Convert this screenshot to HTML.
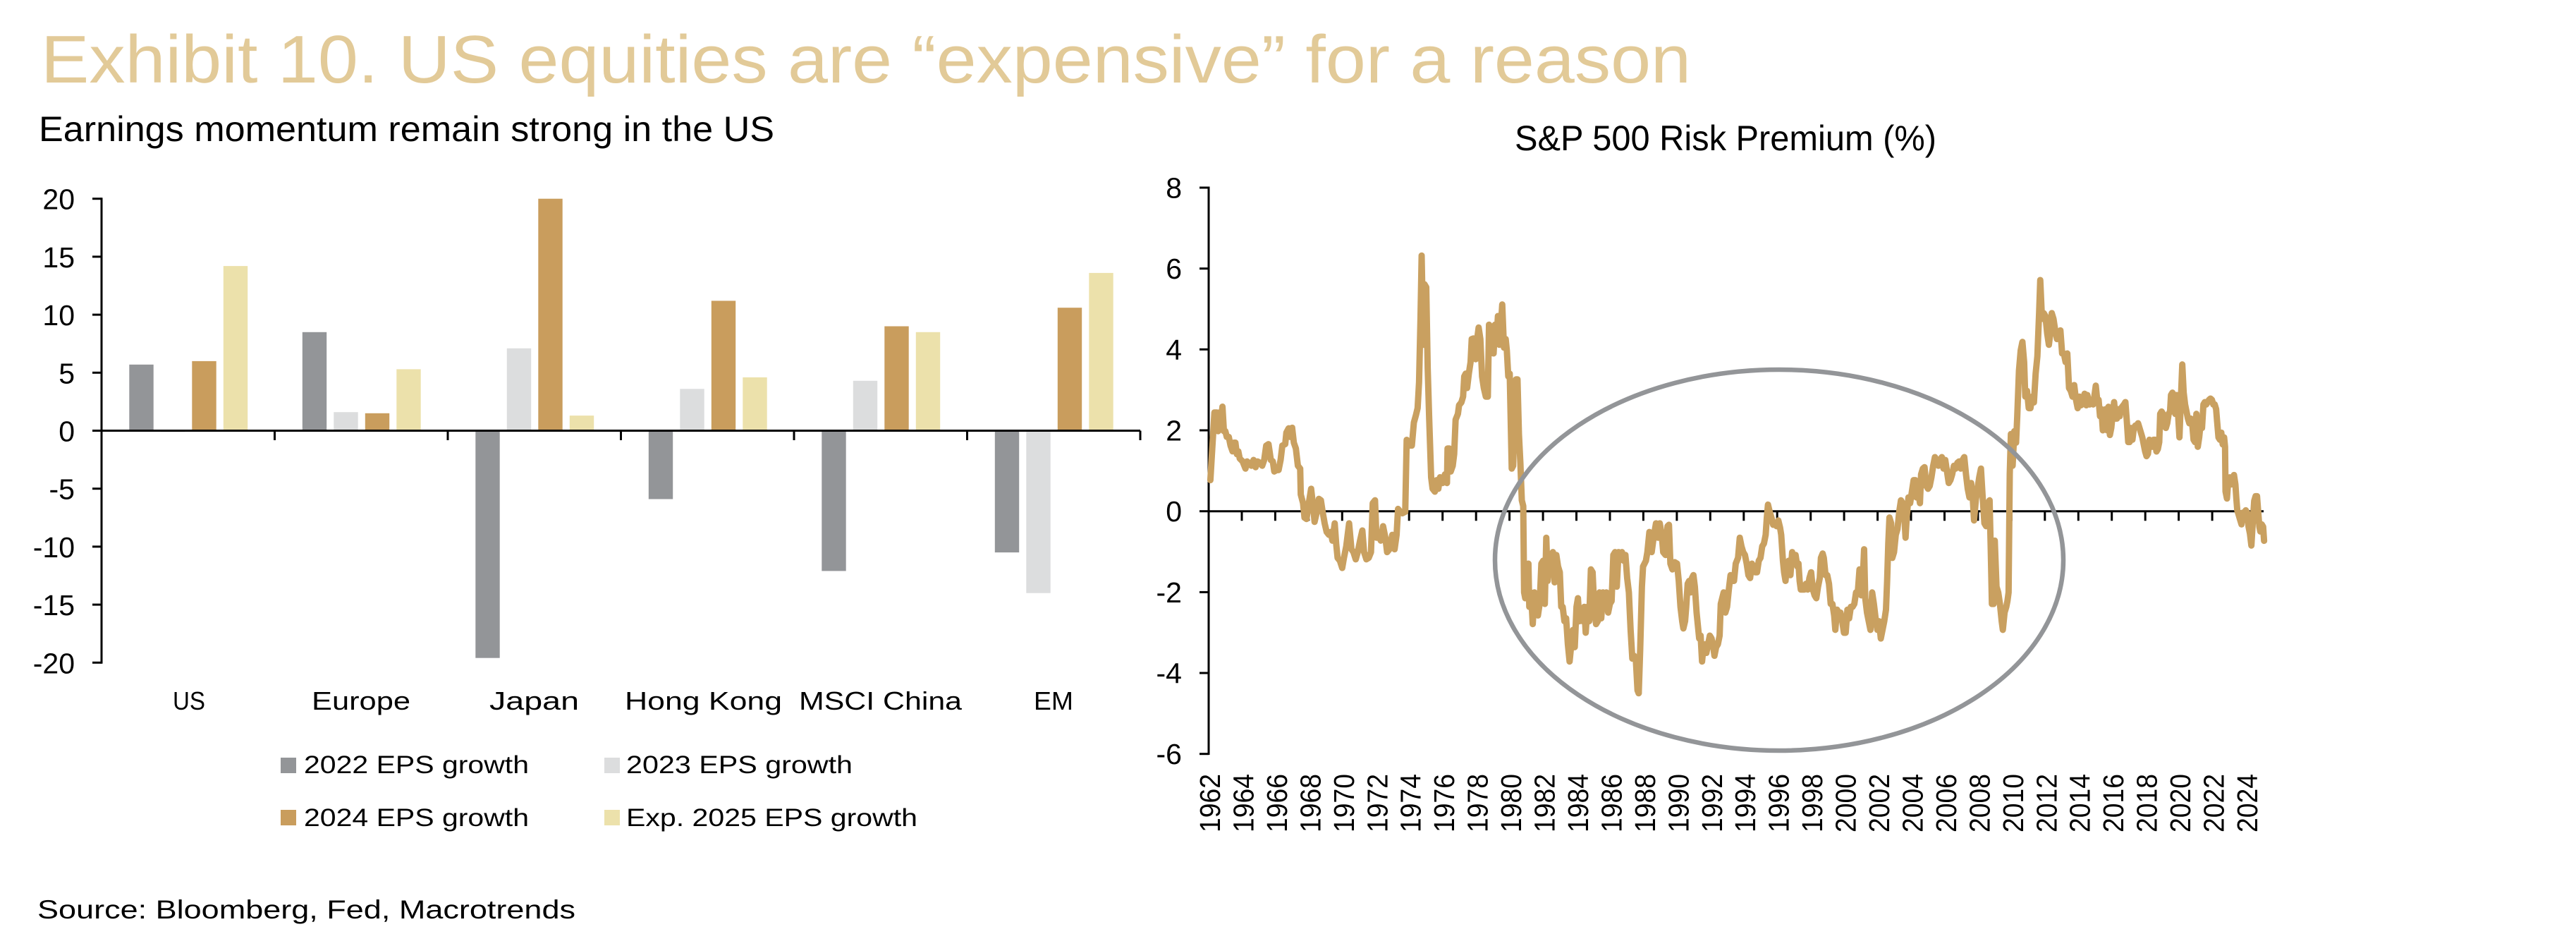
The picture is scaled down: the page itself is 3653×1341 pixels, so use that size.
<!DOCTYPE html>
<html><head><meta charset="utf-8"><style>
html,body{margin:0;padding:0;background:#fff;}
svg{display:block;}
text{font-family:"Liberation Sans",sans-serif;}
</style></head><body>
<svg width="3653" height="1341" viewBox="0 0 3653 1341" xmlns="http://www.w3.org/2000/svg">
<rect width="3653" height="1341" fill="#fff"/>
<!-- Title -->
<text x="58" y="117" font-size="96" fill="#E2CA98" textLength="2340" lengthAdjust="spacingAndGlyphs">Exhibit 10. US equities are “expensive” for a reason</text>
<text x="55" y="200" font-size="50" fill="#000" textLength="1043" lengthAdjust="spacingAndGlyphs">Earnings momentum remain strong in the US</text>
<text x="2148" y="213" font-size="50" fill="#000" textLength="598" lengthAdjust="spacingAndGlyphs">S&amp;P 500 Risk Premium (%)</text>

<!-- LEFT CHART bars -->
<g>
<rect x="183.3" y="516.8" width="34.4" height="93.7" fill="#939598"/>
<rect x="227.8" y="610.5" width="34.4" height="2" fill="#DCDDDE"/>
<rect x="272.3" y="511.9" width="34.4" height="98.6" fill="#C99D5D"/>
<rect x="316.8" y="377.1" width="34.4" height="233.4" fill="#ECE1AB"/>

<rect x="428.8" y="470.8" width="34.4" height="139.7" fill="#939598"/>
<rect x="473.3" y="584.2" width="34.4" height="26.3" fill="#DCDDDE"/>
<rect x="517.8" y="585.8" width="34.4" height="24.7" fill="#C99D5D"/>
<rect x="562.3" y="523.4" width="34.4" height="87.1" fill="#ECE1AB"/>

<rect x="674.3" y="610.5" width="34.4" height="322.2" fill="#939598"/>
<rect x="718.8" y="493.8" width="34.4" height="116.7" fill="#DCDDDE"/>
<rect x="763.3" y="281.7" width="34.4" height="328.8" fill="#C99D5D"/>
<rect x="807.8" y="589.1" width="34.4" height="21.4" fill="#ECE1AB"/>

<rect x="919.8" y="610.5" width="34.4" height="97" fill="#939598"/>
<rect x="964.3" y="551.3" width="34.4" height="59.2" fill="#DCDDDE"/>
<rect x="1008.8" y="426.4" width="34.4" height="184.1" fill="#C99D5D"/>
<rect x="1053.3" y="534.9" width="34.4" height="75.6" fill="#ECE1AB"/>

<rect x="1165.3" y="610.5" width="34.4" height="198.9" fill="#939598"/>
<rect x="1209.8" y="539.8" width="34.4" height="70.7" fill="#DCDDDE"/>
<rect x="1254.3" y="462.5" width="34.4" height="148" fill="#C99D5D"/>
<rect x="1298.8" y="470.8" width="34.4" height="139.7" fill="#ECE1AB"/>

<rect x="1410.8" y="610.5" width="34.4" height="172.6" fill="#939598"/>
<rect x="1455.3" y="610.5" width="34.4" height="230.2" fill="#DCDDDE"/>
<rect x="1499.8" y="436.2" width="34.4" height="174.3" fill="#C99D5D"/>
<rect x="1544.3" y="386.9" width="34.4" height="223.6" fill="#ECE1AB"/>
</g>
<!-- left axes -->
<g stroke="#000" stroke-width="3" fill="none">
<line x1="144" y1="280.2" x2="144" y2="940.8"/>
<line x1="142.5" y1="610.5" x2="1617" y2="610.5"/>
<line x1="131" y1="281.7" x2="144" y2="281.7"/>
<line x1="131" y1="363.9" x2="144" y2="363.9"/>
<line x1="131" y1="446.1" x2="144" y2="446.1"/>
<line x1="131" y1="528.3" x2="144" y2="528.3"/>
<line x1="131" y1="610.5" x2="144" y2="610.5"/>
<line x1="131" y1="692.7" x2="144" y2="692.7"/>
<line x1="131" y1="774.9" x2="144" y2="774.9"/>
<line x1="131" y1="857.1" x2="144" y2="857.1"/>
<line x1="131" y1="939.3" x2="144" y2="939.3"/>
<line x1="389.5" y1="610.5" x2="389.5" y2="624"/>
<line x1="635" y1="610.5" x2="635" y2="624"/>
<line x1="880.5" y1="610.5" x2="880.5" y2="624"/>
<line x1="1126" y1="610.5" x2="1126" y2="624"/>
<line x1="1371.5" y1="610.5" x2="1371.5" y2="624"/>
<line x1="1617" y1="610.5" x2="1617" y2="624"/>
</g>
<g font-size="41" fill="#000" text-anchor="end">
<text x="106" y="296.7">20</text>
<text x="106" y="378.9">15</text>
<text x="106" y="461.1">10</text>
<text x="106" y="543.3">5</text>
<text x="106" y="625.5">0</text>
<text x="106" y="707.7">-5</text>
<text x="106" y="789.9">-10</text>
<text x="106" y="872.1">-15</text>
<text x="106" y="954.3">-20</text>
</g>
<g font-size="36" fill="#000">
<text x="245" y="1006" textLength="46" lengthAdjust="spacingAndGlyphs">US</text>
<text x="442" y="1006" textLength="140" lengthAdjust="spacingAndGlyphs">Europe</text>
<text x="694" y="1006" textLength="127" lengthAdjust="spacingAndGlyphs">Japan</text>
<text x="886" y="1006" textLength="223" lengthAdjust="spacingAndGlyphs">Hong Kong</text>
<text x="1133" y="1006" textLength="231" lengthAdjust="spacingAndGlyphs">MSCI China</text>
<text x="1466" y="1006" textLength="56" lengthAdjust="spacingAndGlyphs">EM</text>
</g>
<!-- legend -->
<rect x="398" y="1074" width="22" height="22" fill="#939598"/>
<rect x="857" y="1074" width="22" height="22" fill="#DCDDDE"/>
<rect x="398" y="1148" width="22" height="22" fill="#C99D5D"/>
<rect x="857" y="1148" width="22" height="22" fill="#ECE1AB"/>
<g font-size="35" fill="#000">
<text x="431" y="1096" textLength="319" lengthAdjust="spacingAndGlyphs">2022 EPS growth</text>
<text x="888" y="1096" textLength="321" lengthAdjust="spacingAndGlyphs">2023 EPS growth</text>
<text x="431" y="1171" textLength="319" lengthAdjust="spacingAndGlyphs">2024 EPS growth</text>
<text x="888" y="1171" textLength="413" lengthAdjust="spacingAndGlyphs">Exp. 2025 EPS growth</text>
</g>
<text x="53" y="1302" font-size="37" fill="#000" textLength="763" lengthAdjust="spacingAndGlyphs">Source: Bloomberg, Fed, Macrotrends</text>

<!-- RIGHT CHART axes -->
<g stroke="#000" stroke-width="3" fill="none">
<line x1="1714" y1="264.5" x2="1714" y2="1070"/>
<line x1="1701" y1="266" x2="1714" y2="266"/>
<line x1="1701" y1="380.7" x2="1714" y2="380.7"/>
<line x1="1701" y1="495.3" x2="1714" y2="495.3"/>
<line x1="1701" y1="610" x2="1714" y2="610"/>
<line x1="1701" y1="724.7" x2="1714" y2="724.7"/>
<line x1="1701" y1="839.4" x2="1714" y2="839.4"/>
<line x1="1701" y1="954" x2="1714" y2="954"/>
<line x1="1701" y1="1068.7" x2="1714" y2="1068.7"/>
<line x1="1712.5" y1="724.7" x2="3210" y2="724.7"/>
<path d="M1761,724.7v13.5M1808.4,724.7v13.5M1855.9,724.7v13.5M1903.3,724.7v13.5M1950.8,724.7v13.5M1998.2,724.7v13.5M2045.7,724.7v13.5M2093.2,724.7v13.5M2140.6,724.7v13.5M2188.1,724.7v13.5M2235.5,724.7v13.5M2283,724.7v13.5M2330.4,724.7v13.5M2377.9,724.7v13.5M2425.3,724.7v13.5M2472.8,724.7v13.5M2520.2,724.7v13.5M2567.7,724.7v13.5M2615.1,724.7v13.5M2662.6,724.7v13.5M2710,724.7v13.5M2757.5,724.7v13.5M2804.9,724.7v13.5M2852.4,724.7v13.5M2899.8,724.7v13.5M2947.3,724.7v13.5M2994.7,724.7v13.5M3042.2,724.7v13.5M3089.6,724.7v13.5M3137.1,724.7v13.5M3184.5,724.7v13.5"/>
</g>
<g font-size="41" fill="#000" text-anchor="end">
<text x="1676" y="280.5">8</text>
<text x="1676" y="395.2">6</text>
<text x="1676" y="509.8">4</text>
<text x="1676" y="624.5">2</text>
<text x="1676" y="739.2">0</text>
<text x="1676" y="853.9">-2</text>
<text x="1676" y="968.5">-4</text>
<text x="1676" y="1083.2">-6</text>
</g>
<g font-size="41" fill="#000" text-anchor="end">
<text transform="translate(1730,1097) rotate(-90)" textLength="83" lengthAdjust="spacingAndGlyphs">1962</text>
<text transform="translate(1777.45,1097) rotate(-90)" textLength="83" lengthAdjust="spacingAndGlyphs">1964</text>
<text transform="translate(1824.9,1097) rotate(-90)" textLength="83" lengthAdjust="spacingAndGlyphs">1966</text>
<text transform="translate(1872.35,1097) rotate(-90)" textLength="83" lengthAdjust="spacingAndGlyphs">1968</text>
<text transform="translate(1919.8,1097) rotate(-90)" textLength="83" lengthAdjust="spacingAndGlyphs">1970</text>
<text transform="translate(1967.25,1097) rotate(-90)" textLength="83" lengthAdjust="spacingAndGlyphs">1972</text>
<text transform="translate(2014.7,1097) rotate(-90)" textLength="83" lengthAdjust="spacingAndGlyphs">1974</text>
<text transform="translate(2062.15,1097) rotate(-90)" textLength="83" lengthAdjust="spacingAndGlyphs">1976</text>
<text transform="translate(2109.6,1097) rotate(-90)" textLength="83" lengthAdjust="spacingAndGlyphs">1978</text>
<text transform="translate(2157.05,1097) rotate(-90)" textLength="83" lengthAdjust="spacingAndGlyphs">1980</text>
<text transform="translate(2204.5,1097) rotate(-90)" textLength="83" lengthAdjust="spacingAndGlyphs">1982</text>
<text transform="translate(2251.95,1097) rotate(-90)" textLength="83" lengthAdjust="spacingAndGlyphs">1984</text>
<text transform="translate(2299.4,1097) rotate(-90)" textLength="83" lengthAdjust="spacingAndGlyphs">1986</text>
<text transform="translate(2346.85,1097) rotate(-90)" textLength="83" lengthAdjust="spacingAndGlyphs">1988</text>
<text transform="translate(2394.3,1097) rotate(-90)" textLength="83" lengthAdjust="spacingAndGlyphs">1990</text>
<text transform="translate(2441.75,1097) rotate(-90)" textLength="83" lengthAdjust="spacingAndGlyphs">1992</text>
<text transform="translate(2489.2,1097) rotate(-90)" textLength="83" lengthAdjust="spacingAndGlyphs">1994</text>
<text transform="translate(2536.65,1097) rotate(-90)" textLength="83" lengthAdjust="spacingAndGlyphs">1996</text>
<text transform="translate(2584.1,1097) rotate(-90)" textLength="83" lengthAdjust="spacingAndGlyphs">1998</text>
<text transform="translate(2631.55,1097) rotate(-90)" textLength="83" lengthAdjust="spacingAndGlyphs">2000</text>
<text transform="translate(2679,1097) rotate(-90)" textLength="83" lengthAdjust="spacingAndGlyphs">2002</text>
<text transform="translate(2726.45,1097) rotate(-90)" textLength="83" lengthAdjust="spacingAndGlyphs">2004</text>
<text transform="translate(2773.9,1097) rotate(-90)" textLength="83" lengthAdjust="spacingAndGlyphs">2006</text>
<text transform="translate(2821.35,1097) rotate(-90)" textLength="83" lengthAdjust="spacingAndGlyphs">2008</text>
<text transform="translate(2868.8,1097) rotate(-90)" textLength="83" lengthAdjust="spacingAndGlyphs">2010</text>
<text transform="translate(2916.25,1097) rotate(-90)" textLength="83" lengthAdjust="spacingAndGlyphs">2012</text>
<text transform="translate(2963.7,1097) rotate(-90)" textLength="83" lengthAdjust="spacingAndGlyphs">2014</text>
<text transform="translate(3011.15,1097) rotate(-90)" textLength="83" lengthAdjust="spacingAndGlyphs">2016</text>
<text transform="translate(3058.6,1097) rotate(-90)" textLength="83" lengthAdjust="spacingAndGlyphs">2018</text>
<text transform="translate(3106.05,1097) rotate(-90)" textLength="83" lengthAdjust="spacingAndGlyphs">2020</text>
<text transform="translate(3153.5,1097) rotate(-90)" textLength="83" lengthAdjust="spacingAndGlyphs">2022</text>
<text transform="translate(3200.95,1097) rotate(-90)" textLength="83" lengthAdjust="spacingAndGlyphs">2024</text>
</g>

<!-- series -->
<g fill="none" stroke="#C9A060" stroke-linejoin="round" stroke-linecap="round">
<g transform="translate(1705,350) scale(0.408163)">
<polyline stroke-width="22.05" points="28,810 42,575 50,575 55,640 60,575 65,600 70,555 75,640 80,640 85,660 92,660 98,690 105,710 110,680 115,680 120,720 125,710 130,735 140,745 150,770 155,745 162,750 170,760 178,740 185,765 192,745 200,750 208,760 215,740 222,690 230,685 238,740 245,745 250,780 258,775 265,775 272,740 278,690 288,685 292,645 300,630 306,660 312,628 318,680 325,700 332,760 340,770 342,860 350,890 355,940 362,945 370,890 378,840 385,900 390,955 398,920 405,875 412,880 418,920 425,960 432,990 440,1000 446,990 452,1020 460,960 465,1030 470,1080 478,1090 486,1115 492,1080 500,1040 510,960 518,1050 525,1060 533,1085 540,1060 548,1020 556,985 562,1060 570,1085 578,1080 586,1060 592,890 600,880 605,1010 612,1000 620,1020 628,970 636,1010 642,1060 650,1050 660,1000 668,1050 675,1000 680,910 688,920 695,925 705,920 710,670 718,690 728,690 735,610 742,585 748,560 753,470 758,250 762,30 768,340 772,130 778,140 783,420 788,590 795,800 800,840 808,850 814,810 820,840 826,800 835,820 843,790 850,820 852,700 858,700 863,780 870,760 875,720 880,600 888,580 892,550 900,540 906,520 910,450 915,440 920,490 926,440 932,400 936,320 942,318 946,360 950,390 955,320 960,280 966,320 972,450 978,490 985,520 992,520 996,270 1003,280 1008,310 1012,370 1017,270 1022,330 1027,240 1032,340 1037,280 1042,200 1048,350 1054,320 1058,360 1063,450 1068,440 1075,770 1080,760 1085,580 1090,460 1095,460 1100,650 1105,750 1110,880 1115,900 1118,1200 1122,1220 1128,1200 1133,1100 1136,1250 1142,1200 1148,1310 1154,1200 1160,1260 1166,1280 1172,1240 1178,1100 1184,1090 1190,1240 1195,1010 1200,1160 1206,1080 1212,1120 1218,1060 1224,1165 1230,1070 1236,1110 1242,1130 1247,1250 1252,1250 1258,1300 1264,1290 1270,1380 1276,1440 1282,1380 1288,1330 1294,1390 1300,1250 1305,1220 1310,1300 1316,1260 1322,1300 1327,1250 1332,1340 1338,1250 1344,1300 1350,1120 1356,1130 1362,1260 1368,1310 1374,1300 1380,1200 1386,1290 1392,1200 1398,1220 1404,1200 1410,1270 1416,1240 1422,1230 1428,1070 1434,1060 1440,1180 1446,1060 1452,1070 1458,1060 1464,1090 1470,1070 1476,1150 1482,1200 1488,1330 1494,1430 1500,1420 1506,1430 1512,1540 1516,1550"/>
</g>
<g transform="translate(2330,350) scale(0.408163)">
<polyline stroke-width="22.05" points="-15,1550 -10,1400 -4,1180 0,1110 5,1100 10,1090 15,1060 22,990 30,1060 38,1000 45,960 52,1010 58,960 65,1000 70,1060 78,1070 85,970 90,965 95,1100 102,1120 110,1095 118,1100 124,1160 130,1250 136,1300 140,1325 146,1300 150,1250 155,1170 160,1160 165,1200 170,1150 175,1140 180,1180 186,1270 190,1310 195,1360 200,1350 205,1440 210,1390 216,1380 220,1410 226,1380 232,1350 238,1360 244,1390 248,1420 254,1390 260,1380 266,1350 270,1240 275,1220 280,1200 286,1270 292,1250 298,1190 304,1140 310,1160 316,1160 322,1100 330,1080 336,1010 342,1040 348,1060 354,1070 360,1100 366,1140 372,1150 378,1100 384,1110 390,1130 396,1130 402,1090 408,1080 414,1040 420,1030 426,1000 430,940 434,895 440,920 446,940 452,965 458,960 464,970 470,950 476,975 480,1000 486,1090 490,1130 495,1160 500,1100 506,1090 512,1140 518,1060 524,1090 530,1070 536,1110 540,1100 544,1160 548,1190 554,1190 560,1190 566,1170 572,1190 578,1150 584,1130 590,1190 596,1210 602,1220 608,1180 614,1150 618,1080 624,1065 628,1080 634,1140 640,1140 646,1170 652,1240 658,1240 664,1280 668,1330 674,1260 680,1270 686,1270 692,1300 698,1340 704,1340 710,1260 716,1290 722,1250 728,1250 734,1240 740,1200 746,1200 752,1120 758,1210 764,1140 768,1050 772,1220 778,1270 784,1300 790,1330 796,1200 802,1240 808,1290 814,1330 820,1300 826,1360 832,1330 838,1300 844,1260 848,1160 852,1030 856,940 862,960 866,1080 872,1060 878,1000 884,980 890,920 896,880 902,890 908,940 912,1010 916,940 922,870 928,890 934,850 940,810 946,810 950,870 956,850 962,890 966,790 972,770 978,765 984,830 990,840 996,830 1002,800 1008,760 1014,730 1020,740 1026,760 1032,740 1038,730 1044,770 1050,740 1056,780 1062,820 1068,810 1074,790 1080,760 1086,770 1092,750 1098,745 1104,770 1110,740 1116,730 1122,790 1128,840 1134,870 1140,820 1146,880 1150,950 1156,880 1162,840 1168,800 1174,770 1180,870 1186,960 1192,970 1198,890 1204,880 1208,1050 1212,1240 1218,1240 1222,1020 1228,1180 1234,1200 1240,1240 1246,1300 1250,1330 1256,1270 1262,1250 1266,1230 1270,1200 1274,790 1278,650 1284,760 1290,640 1296,680 1300,590 1306,430 1312,360 1318,330 1324,400 1328,520 1334,500 1340,560 1346,560 1352,520 1358,540 1364,440 1370,380 1376,230 1380,115 1386,250 1392,230 1398,240 1404,300 1410,340 1416,290 1420,230 1426,250 1432,290 1438,320 1444,300 1450,290 1456,370 1462,370 1468,400 1474,370 1480,490 1486,500 1492,520 1498,480 1504,530 1510,560 1516,520 1522,550 1528,540 1534,510 1540,550"/>
</g>
<g transform="translate(2950,380) scale(0.333333)">
<polyline stroke-width="27" points="26,583 30,540 40,580 48,570 55,580 60,545 66,500 72,560 78,560 84,630 90,600 96,690 102,640 108,600 114,690 120,590 126,710 132,680 138,620 144,570 150,640 156,640 162,600 168,630 172,600 178,590 186,580 192,570 198,650 204,740 210,740 216,680 222,730 228,680 234,670 240,670 246,660 252,680 258,700 264,720 270,750 276,780 282,800 288,790 294,730 300,740 306,760 312,730 318,730 324,780 330,770 336,740 340,620 346,610 352,620 358,640 364,680 370,660 376,620 382,610 386,540 392,530 398,540 404,620 410,540 416,620 422,720 428,560 434,410 440,530 446,580 452,610 458,640 464,660 470,640 476,660 482,730 488,740 494,620 500,760 506,720 512,660 518,680 524,580 530,570 536,580 542,570 548,560 554,555 560,560 566,580 572,580 578,600 582,650 588,720 594,730 600,700 606,750 612,720 616,760 618,950 624,980 630,900 636,890 642,920 648,900 654,880 660,920 664,980 668,1030 674,1050 680,1070 686,1090 692,1040 698,1060 704,1030 710,1040 716,1100 722,1130 728,1180 734,1080 740,990 746,970 752,970 758,1050 762,1100 766,1120 772,1090 778,1100 782,1160"/>
</g>
</g>

<!-- ellipse -->
<ellipse cx="2523" cy="794" rx="403" ry="270" fill="none" stroke="#939598" stroke-width="6.5"/>
</svg>
</body></html>
